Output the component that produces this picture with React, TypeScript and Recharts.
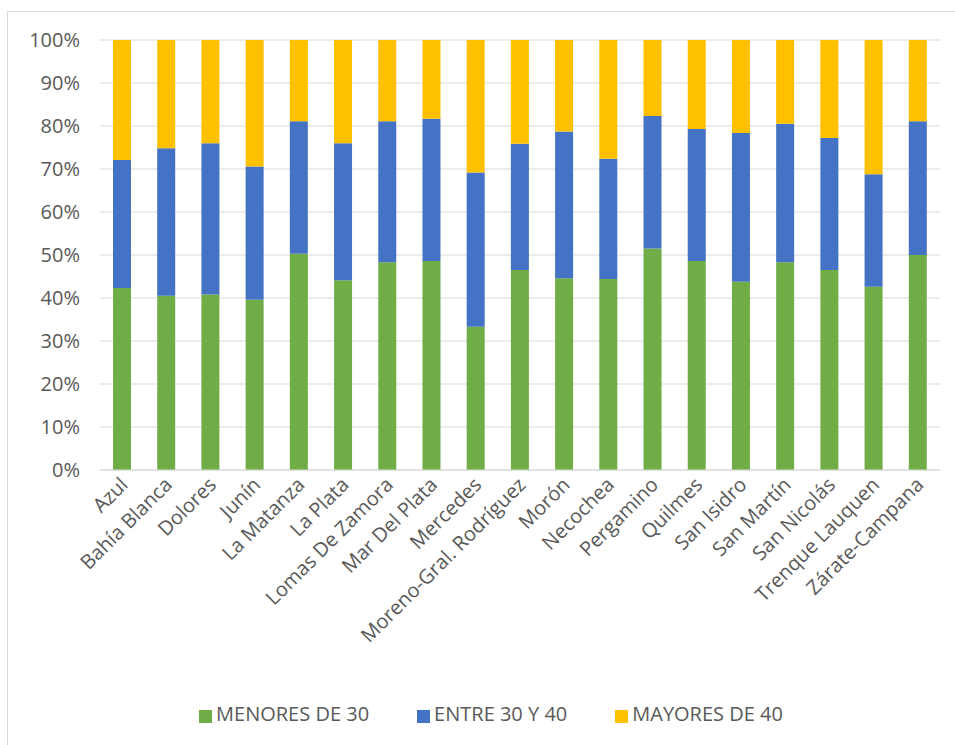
import { Bar, BarChart, CartesianGrid, Legend, XAxis, YAxis } from "recharts";

const departamentos = [
  "Azul",
  "Bahía Blanca",
  "Dolores",
  "Junín",
  "La Matanza",
  "La Plata",
  "Lomas De Zamora",
  "Mar Del Plata",
  "Mercedes",
  "Moreno-Gral. Rodríguez",
  "Morón",
  "Necochea",
  "Pergamino",
  "Quilmes",
  "San Isidro",
  "San Martín",
  "San Nicolás",
  "Trenque Lauquen",
  "Zárate-Campana",
];

const menores30 = [42.3, 40.5, 40.8, 39.6, 50.3, 44.1, 48.3, 48.6, 33.3, 46.5, 44.6, 44.4, 51.5, 48.6, 43.8, 48.3, 46.5, 42.6, 50.0];
const entre30y40 = [29.8, 34.3, 35.2, 31.0, 30.8, 31.9, 32.8, 33.1, 35.9, 29.4, 34.1, 28.0, 30.8, 30.7, 34.6, 32.2, 30.7, 26.2, 31.1];
const mayores40 = [27.9, 25.2, 24.0, 29.4, 18.9, 24.0, 18.9, 18.3, 30.8, 24.1, 21.3, 27.6, 17.7, 20.7, 21.6, 19.5, 22.8, 31.2, 18.9];

const yTicks = [0, 10, 20, 30, 40, 50, 60, 70, 80, 90, 100];
const legendOrder = ["MENORES DE 30", "ENTRE 30 Y 40", "MAYORES DE 40"];

const data = departamentos.map((name, i) => ({
  name,
  menores: menores30[i],
  entre: entre30y40[i],
  mayores: mayores40[i],
}));

const FONT = "'Open Sans', sans-serif";
const TEXT = "#595959";

function XTick({ x, y, payload }: any) {
  return (
    <text
      x={x + 7}
      y={y + 8}
      transform={`rotate(-45, ${x + 7}, ${y + 8})`}
      textAnchor="end"
      fill={TEXT}
      fontSize={20}
      fontFamily={FONT}
    >
      {payload.value}
    </text>
  );
}

export default function App() {
  return (
    <div
      style={{
        position: "fixed",
        left: 0,
        top: 0,
        width: 955,
        height: 745,
        background: "#fff",
        fontFamily: FONT,
      }}
    >
      <div
        style={{
          position: "absolute",
          left: 7,
          top: 11,
          width: 960,
          height: 740,
          border: "1px solid #d9d9d9",
        }}
      />
      <BarChart
        width={955}
        height={745}
        data={data}
        margin={{ top: 40, right: 15, left: 0, bottom: 18 }}
        barSize={18}
      >
        <CartesianGrid vertical={false} stroke="#d9d9d9" />
        <XAxis
          dataKey="name"
          interval={0}
          height={230}
          tickLine={false}
          axisLine={{ stroke: "#d9d9d9" }}
          tick={<XTick />}
        />
        <YAxis
          width={100}
          domain={[0, 100]}
          ticks={yTicks}
          tickFormatter={(v) => `${v}%`}
          axisLine={false}
          tickLine={false}
          tickMargin={14}
          tick={{ fill: TEXT, fontSize: 20, fontFamily: FONT }}
        />
        <Legend
          verticalAlign="bottom"
          iconType="square"
          iconSize={13}
          itemSorter={(item: any) => legendOrder.indexOf(item.value)}
          wrapperStyle={{ paddingLeft: 45 }}
          formatter={(value) => (
            <span style={{ color: TEXT, fontSize: 20, fontFamily: FONT, marginRight: 38 }}>{value}</span>
          )}
        />
        <Bar dataKey="menores" name="MENORES DE 30" stackId="a" fill="#70AD47" isAnimationActive={false} />
        <Bar dataKey="entre" name="ENTRE 30 Y 40" stackId="a" fill="#4472C4" isAnimationActive={false} />
        <Bar dataKey="mayores" name="MAYORES DE 40" stackId="a" fill="#FFC000" isAnimationActive={false} />
      </BarChart>
    </div>
  );
}
